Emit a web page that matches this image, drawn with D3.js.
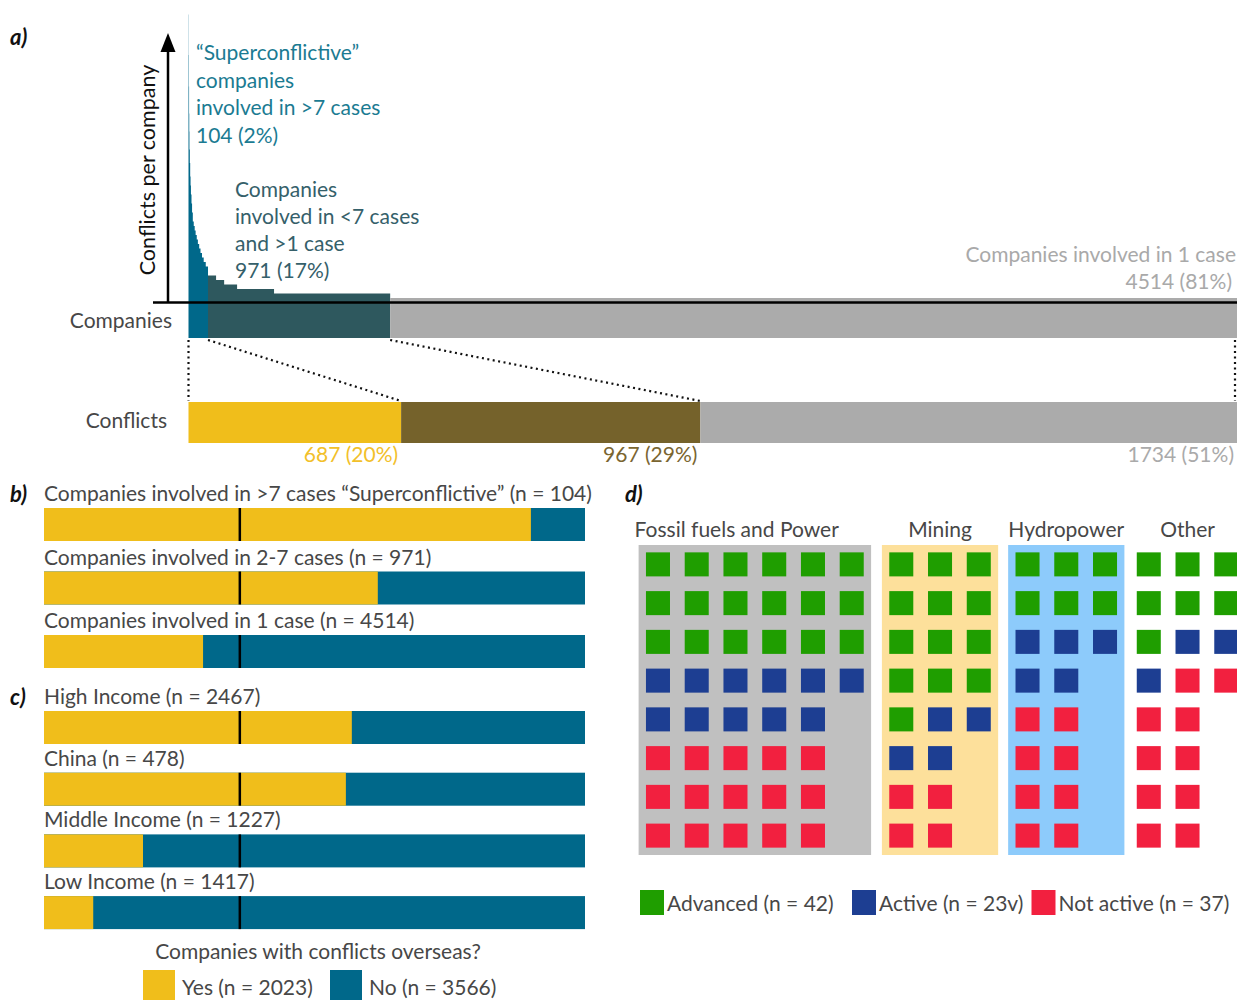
<!DOCTYPE html>
<html>
<head>
<meta charset="utf-8">
<script src="https://cdn.jsdelivr.net/npm/d3@7"></script>
<style>
body { margin: 0; background: #fff; }
text { font-family: Lato, "Open Sans", sans-serif; }
</style>
</head>
<body>
<div id="chart"></div>
<script>
// a) conflicts per company, run length: value + number of companies with it
var superConflicts = [64, 55, 48, 42, 38, 34, 31, 28, 26, 24, 22, 20, 18, 17, 16, 15, 14, 13, 12, 11, 10, 9, 8];
var superCounts    = [ 1,  1,  1,  1,  1,  2,  2,  2,  2,  3,  3,  4,  5,  5,  5,  6,  6,  7,  7,  8,  9, 11, 12];
var midConflicts = [6, 5, 4, 3, 2];
var midCounts    = [43, 43, 69, 197, 619];
var singleConflicts = [1];
var singleCounts    = [4514];

var groupCompanies = [104, 971, 4514];
var groupConflicts = [687, 967, 1734];
var conflictLabels = ["687 (20%)", "967 (29%)", "1734 (51%)"];

// b) and c) share of companies with conflicts overseas
var bLabels = ["Companies involved in >7 cases \u201cSuperconflictive\u201d (n = 104)",
               "Companies involved in 2-7 cases (n = 971)",
               "Companies involved in 1 case (n = 4514)"];
var bYesShare = [0.90, 0.617, 0.294];
var cLabels = ["High Income (n = 2467)", "China (n = 478)", "Middle Income (n = 1227)", "Low Income (n = 1417)"];
var cYesShare = [0.569, 0.558, 0.183, 0.091];
var totalYes = 2023, totalNo = 3566;

// d) cases by sector, A = advanced, V = active, N = not active
var sectors = ["Fossil fuels and Power", "Mining", "Hydropower", "Other"];
var fossilRows = ["AAAAAA", "AAAAAA", "AAAAAA", "VVVVVV", "VVVVV", "NNNNN", "NNNNN", "NNNNN"];
var miningRows = ["AAA", "AAA", "AAA", "AAA", "AVV", "VV", "NN", "NN"];
var hydroRows  = ["AAA", "AAA", "VVV", "VV", "NN", "NN", "NN", "NN"];
var otherRows  = ["AAA", "AAA", "AVV", "VNN", "NN", "NN", "NN", "NN"];
var statusCodes  = ["A", "V", "N"];
var statusLabels = ["Advanced (n = 42)", "Active (n = 23v)", "Not active (n = 37)"];

var yellow = "#f0be1b", teal = "#00688a", darkTeal = "#2e585e", brown = "#75622b", grey = "#ababab";
var txt = "#474747";

var svg = d3.select("#chart").append("svg")
    .attr("width", 1237)
    .attr("height", 1000);

function label(x, y, s, opts) {
    opts = opts || {};
    return svg.append("text")
        .attr("x", x).attr("y", y)
        .attr("text-anchor", opts.anchor || "start")
        .attr("font-size", opts.size || 21)
        .attr("font-weight", opts.weight || "normal")
        .attr("font-style", opts.style || "normal")
        .attr("fill", opts.fill || txt)
        .text(s);
}
function panelLabel(x, y, s) {
    label(x, y, s, {weight: "bold", style: "italic", fill: "#111", size: 22});
}

// ---------- a) ----------
panelLabel(10, 45, "a)");

var left = 188.5, right = 1237;
var axisY = 302.5, bandBottom = 338;
var xComp = d3.scaleLinear().domain([0, d3.sum(groupCompanies)]).range([left, right]);
var yConf = d3.scaleLinear().domain([0, 64]).range([axisY, axisY - 64 * 4.5]);

function steps(values, counts, start) {
    var pts = [], i = start;
    values.forEach(function(v, k) {
        pts.push({i: i, v: v});
        i += counts[k];
    });
    pts.push({i: i, v: values[values.length - 1]});
    return pts;
}
var groupSteps = [
    steps(superConflicts, superCounts, 0),
    steps(midConflicts, midCounts, groupCompanies[0]),
    steps(singleConflicts, singleCounts, groupCompanies[0] + groupCompanies[1])
];
var area = d3.area()
    .curve(d3.curveStepAfter)
    .x(function(d) { return xComp(d.i); })
    .y0(bandBottom)
    .y1(function(d) { return yConf(d.v); });

svg.selectAll(".step")
    .data(groupSteps)
    .enter()
    .append("path")
    .attr("d", area)
    .attr("fill", function(d, i) { return [teal, darkTeal, grey][i]; });

// axes
svg.append("line")
    .attr("x1", 153).attr("x2", right)
    .attr("y1", axisY).attr("y2", axisY)
    .attr("stroke", "#000").attr("stroke-width", 2.5);
svg.append("line")
    .attr("x1", 168).attr("x2", 168)
    .attr("y1", axisY).attr("y2", 48)
    .attr("stroke", "#000").attr("stroke-width", 2.5);
svg.append("path")
    .attr("d", "M168,33 L160.5,52 L175.5,52 Z")
    .attr("fill", "#000");

svg.append("text")
    .attr("transform", "translate(155,170) rotate(-90)")
    .attr("text-anchor", "middle")
    .attr("font-size", 21.5)
    .attr("fill", "#111")
    .text("Conflicts per company");

var superText = ["\u201cSuperconflictive\u201d", "companies", "involved in >7 cases", "104 (2%)"];
superText.forEach(function(s, i) { label(196, 60 + i * 27.5, s, {fill: "#1b7b92"}); });
var midText = ["Companies", "involved in <7 cases", "and >1 case", "971 (17%)"];
midText.forEach(function(s, i) { label(235, 197 + i * 27, s, {fill: "#35606a"}); });
label(1236, 262, "Companies involved in 1 case", {anchor: "end", fill: "#a9a9a9"});
label(1232, 289, "4514 (81%)", {anchor: "end", fill: "#a9a9a9"});

label(172, 328, "Companies", {anchor: "end"});
label(167, 428, "Conflicts", {anchor: "end"});

// conflicts bar
var xConfl = d3.scaleLinear().domain([0, d3.sum(groupConflicts)]).range([left, right]);
var confCum = [0];
groupConflicts.forEach(function(v, i) { confCum.push(confCum[i] + v); });
var compCum = [0];
groupCompanies.forEach(function(v, i) { compCum.push(compCum[i] + v); });

svg.selectAll(".conf")
    .data(groupConflicts)
    .enter()
    .append("rect")
    .attr("x", function(d, i) { return xConfl(confCum[i]); })
    .attr("width", function(d) { return xConfl(d) - xConfl(0); })
    .attr("y", 402)
    .attr("height", 41)
    .attr("fill", function(d, i) { return [yellow, brown, grey][i]; });

var confLabelFill = ["#f2c02a", "#7a6530", "#aaaaaa"];
conflictLabels.forEach(function(s, i) {
    label(xConfl(confCum[i + 1]) - 3, 462, s, {anchor: "end", fill: confLabelFill[i]});
});

// dotted zoom lines between the two bars
svg.selectAll(".zoomline")
    .data(compCum)
    .enter()
    .append("line")
    .attr("x1", function(d) { return Math.min(xComp(d), right - 2); })
    .attr("y1", bandBottom + 2)
    .attr("x2", function(d, i) { return Math.min(xConfl(confCum[i]), right - 2); })
    .attr("y2", 401)
    .attr("stroke", "#111")
    .attr("stroke-width", 2.2)
    .attr("stroke-dasharray", "2,3.5");

// ---------- b) and c) ----------
var xShare = d3.scaleLinear().domain([0, 1]).range([44, 585]);
var overall = totalYes / (totalYes + totalNo);

function shareRows(labels, shares, titleY, pitch) {
    labels.forEach(function(s, i) {
        var ty = titleY + i * pitch;
        label(44, ty, s);
        var by = ty + 7;
        svg.append("rect")
            .attr("x", xShare(0)).attr("y", by)
            .attr("width", xShare(1) - xShare(0)).attr("height", 33)
            .attr("fill", teal);
        svg.append("rect")
            .attr("x", xShare(0)).attr("y", by)
            .attr("width", xShare(shares[i]) - xShare(0)).attr("height", 33)
            .attr("fill", yellow);
        svg.append("line")
            .attr("x1", xShare(overall)).attr("x2", xShare(overall))
            .attr("y1", by).attr("y2", by + 33)
            .attr("stroke", "#000").attr("stroke-width", 2.5);
    });
}

panelLabel(10, 502, "b)");
shareRows(bLabels, bYesShare, 501, 63.5);
panelLabel(10, 705, "c)");
shareRows(cLabels, cYesShare, 704, 61.7);

label(318, 959, "Companies with conflicts overseas?", {anchor: "middle"});
svg.append("rect").attr("x", 143).attr("y", 970).attr("width", 32).attr("height", 34).attr("fill", yellow);
label(182, 995, "Yes (n = " + totalYes + ")");
svg.append("rect").attr("x", 330).attr("y", 970).attr("width", 32).attr("height", 34).attr("fill", teal);
label(369, 995, "No (n = " + totalNo + ")");

// ---------- d) ----------
panelLabel(625, 502, "d)");

var statusColor = d3.scaleOrdinal().domain(statusCodes).range(["#1f9e00", "#1d3e92", "#f2203f"]);
var sectorRows = [fossilRows, miningRows, hydroRows, otherRows];
var sectorBg = ["#c0c0c0", "#fde09b", "#8dcbfb", "none"];
var step = 38.75;
var gapAfter = [10.8, 10, 5];
var yRow = d3.scaleBand().domain(d3.range(8)).range([545, 855]).paddingInner(0.38).paddingOuter(0.19);

var sx = 638.6;
sectorRows.forEach(function(rows, s) {
    var ncol = d3.max(rows, function(r) { return r.length; });
    var xCol = d3.scaleBand().domain(d3.range(ncol)).range([sx, sx + ncol * step])
        .paddingInner(0.38).paddingOuter(0.19);
    var r0 = xCol.range()[0], r1 = xCol.range()[1];
    svg.append("rect")
        .attr("x", r0).attr("y", yRow.range()[0])
        .attr("width", r1 - r0).attr("height", yRow.range()[1] - yRow.range()[0])
        .attr("fill", sectorBg[s]);
    if (s === 0) label(r0 - 4, 537, sectors[s]);
    else label((r0 + r1) / 2, 537, sectors[s], {anchor: "middle"});

    var cells = [];
    rows.forEach(function(r, ri) {
        r.split("").forEach(function(c, ci) { cells.push({row: ri, col: ci, code: c}); });
    });
    svg.selectAll(".cell" + s)
        .data(cells)
        .enter()
        .append("rect")
        .attr("x", function(d) { return xCol(d.col); })
        .attr("y", function(d) { return yRow(d.row); })
        .attr("width", xCol.bandwidth())
        .attr("height", yRow.bandwidth())
        .attr("fill", function(d) { return statusColor(d.code); });
    sx = r1 + (gapAfter[s] || 0);
});

// legend d
var legX = [640, 852, 1031.5];
statusCodes.forEach(function(c, i) {
    svg.append("rect")
        .attr("x", legX[i]).attr("y", 890)
        .attr("width", 24).attr("height", 25)
        .attr("fill", statusColor(c));
    label(legX[i] + 27, 911, statusLabels[i]);
});
</script>
</body>
</html>
